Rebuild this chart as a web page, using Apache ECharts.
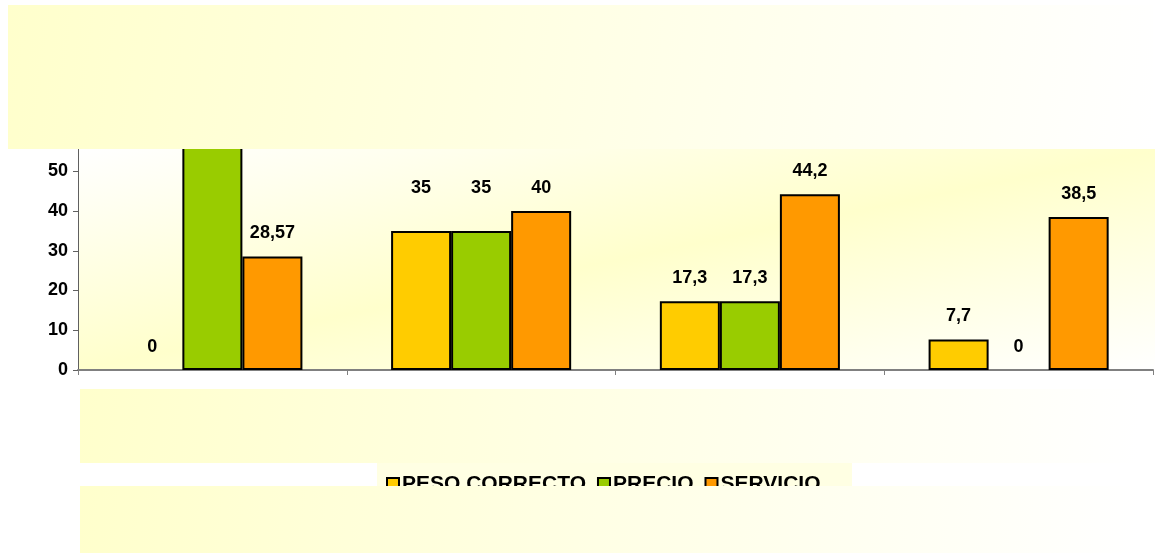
<!DOCTYPE html>
<html>
<head>
<meta charset="utf-8">
<title>Chart</title>
<script src="https://cdn.jsdelivr.net/npm/echarts@6/dist/echarts.min.js"></script>
<style>
  html, body { margin: 0; padding: 0; background: #fff; }
  #chart { width: 1157px; height: 554px; }
</style>
</head>
<body>
<div id="chart"></div>
<script>
// datos
const categories = ['A', 'B', 'C', 'D']
const pesoCorrecto = [0, 35, 17.3, 7.7]
const precio = [71.43, 35, 17.3, 0]
const servicio = [28.57, 40, 44.2, 38.5]
const seriesNames = ['PESO CORRECTO', 'PRECIO', 'SERVICIO']
const colors = ['#FFCC00', '#99CC00', '#FF9900']

const yellow = '#FFFFCC'
const fontFamily = 'Arial, "Liberation Sans", sans-serif'

// etiquetas movidas a mano en el original (serie-categoria -> px hacia arriba)
const labelLift = { '0-1': 20, '1-1': 20 }

const toData = (arr, s) => arr.map((v, i) => {
  const item = { value: v }
  if (v === 0) item.itemStyle = { borderWidth: 0 }
  const lift = labelLift[s + '-' + i]
  if (lift) item.label = { offset: [0, -lift] }
  return item
})

const mkSeries = (s, data) => ({
  name: seriesNames[s],
  type: 'bar',
  data: toData(data, s),
  barGap: '0%',
  barCategoryGap: '33%',
  itemStyle: { color: colors[s], borderColor: '#000', borderWidth: 2 },
  label: {
    show: true,
    position: 'top',
    distance: 14,
    color: '#000',
    fontWeight: 'bold',
    fontSize: 18,
    fontFamily: fontFamily,
    formatter: p => String(p.value).replace('.', ',')
  }
})

const chart = echarts.init(document.getElementById('chart'))

chart.setOption({
  animation: false,
  backgroundColor: '#fff',
  color: colors,
  grid: { left: 78, right: 4, top: 52, bottom: 184 },
  legend: {
    left: 381,
    top: 469,
    itemWidth: 12,
    itemHeight: 13,
    itemGap: 11,
    icon: 'rect',
    textStyle: { fontSize: 21, fontWeight: 'bold', color: '#000', fontFamily: fontFamily, padding: [0, 0, 0, -2] },
    data: seriesNames
  },
  xAxis: {
    type: 'category',
    data: categories,
    axisLine: { lineStyle: { color: '#808080', width: 2 } },
    axisTick: { show: true, length: 5, lineStyle: { color: '#808080' } },
    axisLabel: { show: false }
  },
  yAxis: {
    type: 'value',
    min: 0,
    max: 80,
    interval: 10,
    splitLine: { show: false },
    axisLine: { show: true, lineStyle: { color: '#606060' } },
    axisTick: { show: true, length: 5, lineStyle: { color: '#606060' } },
    axisLabel: { color: '#000', fontWeight: 'bold', fontSize: 18, fontFamily: fontFamily, margin: 10 }
  },
  graphic: {
    elements: [
      // fondo del area de trazado
      {
        type: 'rect', z: -10, silent: true,
        shape: { x: 78, y: 149, width: 1077, height: 221 },
        style: {
          fill: new echarts.graphic.LinearGradient(78, 149, 164, 572, [
            { offset: 0, color: '#ffffff' },
            { offset: 0.5, color: yellow },
            { offset: 1, color: '#ffffff' }
          ], true)
        }
      },
      // franja superior
      {
        type: 'rect', z: 100, silent: true,
        shape: { x: 8, y: 5, width: 1145, height: 144 },
        style: {
          fill: new echarts.graphic.LinearGradient(0, 0, 1, 1, [
            { offset: 0, color: yellow },
            { offset: 1, color: '#ffffff' }
          ])
        }
      },
      // franja media
      {
        type: 'rect', z: 100, silent: true,
        shape: { x: 80, y: 389, width: 1057, height: 74 },
        style: {
          fill: new echarts.graphic.LinearGradient(0, 0, 1, 1, [
            { offset: 0, color: yellow },
            { offset: 1, color: '#ffffff' }
          ])
        }
      },
      // fondo de la leyenda
      {
        type: 'rect', z: -5, silent: true,
        shape: { x: 377, y: 463, width: 475, height: 24 },
        style: { fill: '#FFFFE3' }
      },
      // franja inferior
      {
        type: 'rect', z: 100, silent: true,
        shape: { x: 80, y: 486, width: 1057, height: 67 },
        style: {
          fill: new echarts.graphic.LinearGradient(0, 0, 1, 1, [
            { offset: 0, color: yellow },
            { offset: 1, color: '#ffffff' }
          ])
        }
      }
    ]
  },
  series: [
    mkSeries(0, pesoCorrecto),
    mkSeries(1, precio),
    mkSeries(2, servicio)
  ]
})
</script>
</body>
</html>
